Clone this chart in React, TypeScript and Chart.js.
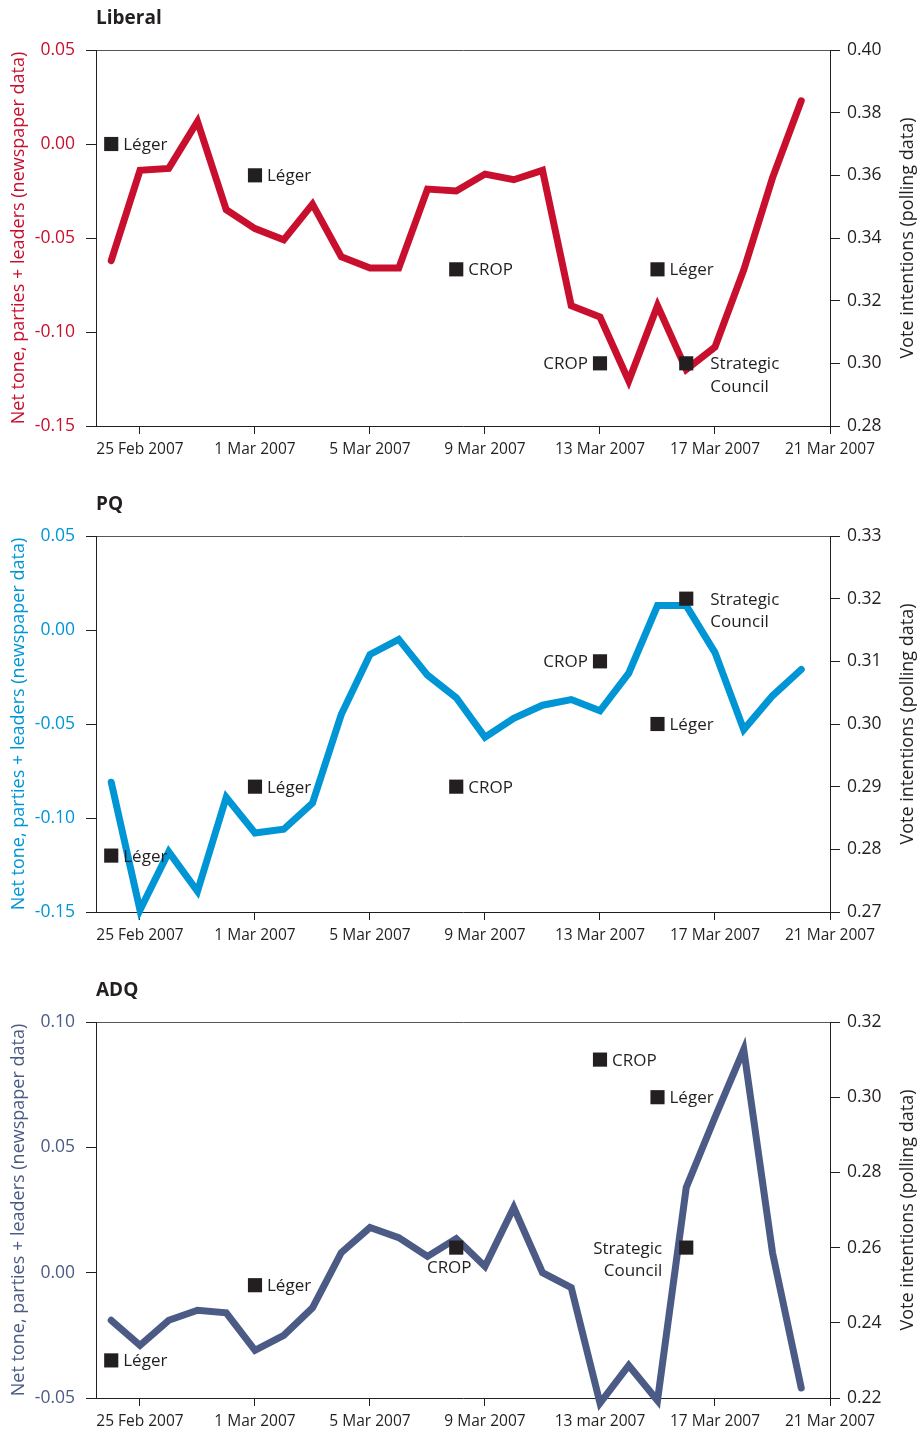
import React, { useEffect, useRef } from "react";
import { Chart, registerables } from "chart.js";

Chart.register(...registerables);

const FONT = '"Open Sans", "Noto Sans", "DejaVu Sans", sans-serif';
const INK = "#231F20";

// 24 Feb 2007 .. 20 Mar 2007 (x index 0..24)
const dayLabels = [
  "24 Feb", "25 Feb", "26 Feb", "27 Feb", "28 Feb",
  "1 Mar", "2 Mar", "3 Mar", "4 Mar", "5 Mar", "6 Mar", "7 Mar", "8 Mar", "9 Mar", "10 Mar",
  "11 Mar", "12 Mar", "13 Mar", "14 Mar", "15 Mar", "16 Mar", "17 Mar", "18 Mar", "19 Mar", "20 Mar",
];

const tickDays = [1, 5, 9, 13, 17, 21, 25];
const tickLabels = ["25 Feb 2007", "1 Mar 2007", "5 Mar 2007", "9 Mar 2007", "13 Mar 2007", "17 Mar 2007", "21 Mar 2007"];
const tickLabelsADQ = ["25 Feb 2007", "1 Mar 2007", "5 Mar 2007", "9 Mar 2007", "13 mar 2007", "17 Mar 2007", "21 Mar 2007"];

// Net tone (newspaper data)
const liberalTone = [
  -0.062, -0.014, -0.013, 0.012, -0.035, -0.045, -0.051, -0.032, -0.060, -0.066, -0.066, -0.024, -0.025,
  -0.016, -0.019, -0.014, -0.086, -0.092, -0.126, -0.086, -0.120, -0.108, -0.067, -0.018, 0.023,
];
const pqTone = [
  -0.081, -0.149, -0.118, -0.139, -0.089, -0.108, -0.106, -0.092, -0.045, -0.013, -0.005, -0.024, -0.036,
  -0.057, -0.047, -0.040, -0.037, -0.043, -0.023, 0.013, 0.013, -0.012, -0.053, -0.035, -0.021,
];
const adqTone = [
  -0.019, -0.029, -0.019, -0.015, -0.016, -0.031, -0.025, -0.014, 0.008, 0.018, 0.014, 0.0065, 0.0136,
  0.0025, 0.026, 0.0, -0.006, -0.052, -0.037, -0.051, 0.034, 0.062, 0.089, 0.008, -0.046,
];

// Polls (vote intentions) — x index, value, name
const pollDays = [0, 5, 12, 17, 19, 20];
const pollNames = ["Léger", "Léger", "CROP", "CROP", "Léger", "Strategic\nCouncil"];

const liberalPolls = [0.37, 0.36, 0.33, 0.30, 0.33, 0.30];
const pqPolls = [0.279, 0.29, 0.29, 0.31, 0.30, 0.32];
const adqPolls = [0.23, 0.25, 0.26, 0.31, 0.30, 0.26];

// label placement: r = right, l = left, b = below
const liberalSides = ["r", "r", "r", "l", "r", "r"];
const pqSides = ["r", "r", "r", "l", "r", "r"];
const adqSides = ["r", "r", "b", "r", "r", "l"];

// Axis ranges / ticks
const liberalLeft = { min: -0.15, max: 0.05, step: 0.05 };
const liberalRight = { min: 0.28, max: 0.40, step: 0.02 };
const pqLeft = { min: -0.15, max: 0.05, step: 0.05 };
const pqRight = { min: 0.27, max: 0.33, step: 0.01 };
const adqLeft = { min: -0.05, max: 0.10, step: 0.05 };
const adqRight = { min: 0.22, max: 0.32, step: 0.02 };

const LEFT_TITLE = "Net tone, parties + leaders (newspaper data)";
const RIGHT_TITLE = "Vote intentions (polling data)";

type PanelCfg = {
  title: string;
  color: string;
  tone: number[];
  polls: number[];
  sides: string[];
  left: { min: number; max: number; step: number };
  right: { min: number; max: number; step: number };
  xLabels: string[];
};

const panels: { cfg: PanelCfg; top: number; height: number }[] = [
  {
    cfg: { title: "Liberal", color: "#C8102E", tone: liberalTone, polls: liberalPolls, sides: liberalSides, left: liberalLeft, right: liberalRight, xLabels: tickLabels },
    top: 0,
    height: 470,
  },
  {
    cfg: { title: "PQ", color: "#0096D6", tone: pqTone, polls: pqPolls, sides: pqSides, left: pqLeft, right: pqRight, xLabels: tickLabels },
    top: 486,
    height: 470,
  },
  {
    cfg: { title: "ADQ", color: "#4B5B85", tone: adqTone, polls: adqPolls, sides: adqSides, left: adqLeft, right: adqRight, xLabels: tickLabelsADQ },
    top: 972,
    height: 459,
  },
];

const fmt = (v: number) => (Math.abs(v) < 1e-9 ? 0 : v).toFixed(2);

function Panel({ cfg, height }: { cfg: PanelCfg; height: number }) {
  const ref = useRef<HTMLCanvasElement>(null);

  useEffect(() => {
    const canvas = ref.current!;
    const annot = {
      id: "annot",
      afterDatasetsDraw(chart: any) {
        const ctx = chart.ctx as CanvasRenderingContext2D;
        const area = chart.chartArea;
        ctx.save();
        // panel title
        ctx.fillStyle = INK;
        ctx.font = `bold 19px ${FONT}`;
        ctx.textAlign = "left";
        ctx.textBaseline = "alphabetic";
        ctx.fillText(cfg.title, area.left, area.top - 26);

        // right axis title (reads bottom to top)
        const y1 = chart.scales.y1;
        ctx.save();
        ctx.translate(y1.right - 9, (area.top + area.bottom) / 2);
        ctx.rotate(-Math.PI / 2);
        ctx.font = `18px ${FONT}`;
        ctx.textAlign = "center";
        ctx.textBaseline = "middle";
        ctx.fillStyle = INK;
        ctx.fillText(RIGHT_TITLE, 0, 0);
        ctx.restore();

        // poll labels
        const meta = chart.getDatasetMeta(0);
        ctx.font = `17px ${FONT}`;
        ctx.fillStyle = INK;
        ctx.textBaseline = "alphabetic";
        meta.data.forEach((pt: any, i: number) => {
          const lines = pollNames[i].split("\n");
          const side = cfg.sides[i];
          const multi = lines.length > 1;
          if (side === "b") {
            ctx.textAlign = "center";
            ctx.fillText(lines[0], pt.x - 7, pt.y + 25);
            return;
          }
          const gap = multi ? 24 : 12;
          ctx.textAlign = side === "l" ? "right" : "left";
          const x = side === "l" ? pt.x - gap : pt.x + gap;
          lines.forEach((ln, k) => {
            ctx.fillText(ln, x, pt.y + 6 + k * 22.5);
          });
        });
        ctx.restore();
      },
    };

    const chart = new Chart(canvas, {
      type: "line",
      data: {
        datasets: [
          {
            label: "polls",
            data: pollDays.map((d, i) => ({ x: d, y: cfg.polls[i] })),
            yAxisID: "y1",
            showLine: false,
            pointStyle: "rect",
            pointRadius: 10,
            pointHoverRadius: 10,
            pointBackgroundColor: INK,
            pointBorderWidth: 0,
            borderWidth: 0,
            order: 0,
            clip: false as any,
          },
          {
            label: cfg.title,
            data: cfg.tone.map((v, i) => ({ x: i, y: v })),
            yAxisID: "y",
            borderColor: cfg.color,
            borderWidth: 7,
            pointRadius: 0,
            tension: 0,
            borderJoinStyle: "miter",
            borderCapStyle: "round",
            order: 1,
            clip: false as any,
          },
        ],
      },
      options: {
        animation: false,
        responsive: false,
        events: [],
        layout: { padding: { top: 50, left: 0, right: 0, bottom: 0 } },
        plugins: { legend: { display: false }, tooltip: { enabled: false }, title: { display: false } },
        scales: {
          x: {
            type: "linear",
            min: -0.53,
            max: 25,
            afterBuildTicks: (s: any) => {
              s.ticks = tickDays.map((v) => ({ value: v }));
            },
            afterFit: (s: any) => {
              s.height = height - 426;
            },
            ticks: {
              autoSkip: false,
              maxRotation: 0,
              padding: 6,
              color: INK,
              font: { family: FONT, size: 15.5 },
              callback: (v: any) => {
                const idx = tickDays.indexOf(Number(v));
                return idx >= 0 ? cfg.xLabels[idx] : "";
              },
            },
            grid: { drawOnChartArea: false, tickLength: 8, color: INK, lineWidth: 1 },
            border: { display: true, color: INK, width: 1 },
          },
          y: {
            type: "linear",
            position: "left",
            min: cfg.left.min,
            max: cfg.left.max,
            afterFit: (s: any) => {
              s.width = 96;
            },
            ticks: {
              stepSize: cfg.left.step,
              padding: 11,
              color: cfg.color,
              font: { family: FONT, size: 17.5 },
              callback: (v: any) => fmt(Number(v)),
            },
            grid: {
              drawOnChartArea: true,
              tickLength: 10,
              tickColor: INK,
              lineWidth: 1,
              color: (c: any) => (c.index === c.scale.ticks.length - 1 ? "#555" : "rgba(0,0,0,0)"),
            },
            border: { display: true, color: INK, width: 1 },
            title: {
              display: true,
              text: LEFT_TITLE,
              color: cfg.color,
              font: { family: FONT, size: 18 },
              padding: { top: 8, bottom: 0 },
            },
          },
          y1: {
            type: "linear",
            position: "right",
            min: cfg.right.min,
            max: cfg.right.max,
            afterFit: (s: any) => {
              s.width = 87;
            },
            ticks: {
              stepSize: cfg.right.step,
              padding: 7,
              color: INK,
              font: { family: FONT, size: 17.5 },
              callback: (v: any) => fmt(Number(v)),
            },
            grid: { drawOnChartArea: false, tickLength: 10, color: INK, lineWidth: 1 },
            border: { display: true, color: INK, width: 1 },
          },
        },
      },
      plugins: [annot],
    } as any);

    return () => chart.destroy();
  }, []);

  return <canvas ref={ref} width={917} height={height} style={{ display: "block" }} />;
}

export default function App() {
  return (
    <div style={{ position: "absolute", left: 0, top: 0, width: 917, height: 1431, background: "#fff" }}>
      {panels.map((p, i) => (
        <div key={i} style={{ position: "absolute", left: 0, top: p.top, width: 917, height: p.height }}>
          <Panel cfg={p.cfg} height={p.height} />
        </div>
      ))}
    </div>
  );
}
